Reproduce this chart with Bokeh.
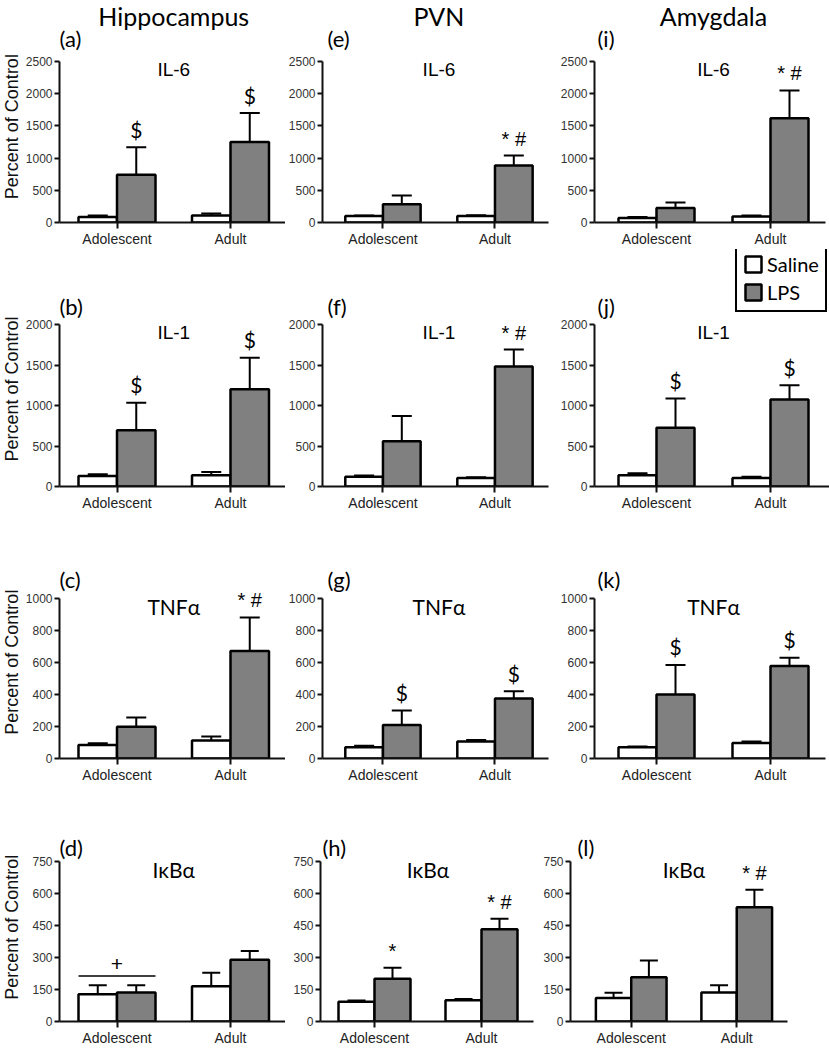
import numpy as np
from bokeh.plotting import figure
from bokeh.layouts import column, row
from bokeh.models import (Range1d, FixedTicker, ColumnDataSource, Whisker, TeeHead,
                          Legend, LegendItem)
from bokeh.core.properties import value
from bokeh.embed import file_html
from bokeh.resources import INLINE

# ---------------- data ----------------
regions = ["Hippocampus", "PVN", "Amygdala"]
markers = ["IL-6", "IL-1", "TNFα", "IκBα"]
ages = ["Adolescent", "Adult"]
letters = [["(a)", "(e)", "(i)"], ["(b)", "(f)", "(j)"],
           ["(c)", "(g)", "(k)"], ["(d)", "(h)", "(l)"]]
y_max = [2500, 2000, 1000, 750]
y_step = [500, 500, 200, 150]
y_title = "Percent of Control"

# rows = markers, values = [Adolescent, Adult]
hippocampus_saline = [[85, 110], [130, 140], [85, 112], [128, 165]]
hippocampus_saline_sem = [[25, 30], [20, 40], [10, 25], [42, 63]]
hippocampus_lps = [[740, 1250], [695, 1200], [198, 672], [136, 290]]
hippocampus_lps_sem = [[430, 450], [340, 390], [58, 210], [34, 40]]
hippocampus_marks = [["$", "$"], ["$", "$"], ["", "* #"], ["", ""]]

pvn_saline = [[100, 100], [120, 105], [70, 106], [93, 100]]
pvn_saline_sem = [[10, 12], [15, 10], [10, 10], [5, 5]]
pvn_lps = [[285, 885], [560, 1480], [210, 375], [200, 433]]
pvn_lps_sem = [[135, 155], [310, 210], [90, 45], [52, 49]]
pvn_marks = [["", "* #"], ["", "* #"], ["$", "$"], ["*", "* #"]]

amygdala_saline = [[70, 95], [140, 105], [70, 97], [110, 136]]
amygdala_saline_sem = [[15, 15], [25, 15], [5, 10], [25, 34]]
amygdala_lps = [[225, 1620], [725, 1075], [400, 578], [208, 536]]
amygdala_lps_sem = [[85, 430], [360, 175], [185, 52], [78, 82]]
amygdala_marks = [["", "* #"], ["$", "$"], ["$", "$"], ["", "* #"]]

# Hippocampus IκBα: adolescent group comparison bar
plus_bar_value = 213
plus_label = "+"

DATA = {
    "Hippocampus": (hippocampus_saline, hippocampus_saline_sem, hippocampus_lps, hippocampus_lps_sem, hippocampus_marks),
    "PVN": (pvn_saline, pvn_saline_sem, pvn_lps, pvn_lps_sem, pvn_marks),
    "Amygdala": (amygdala_saline, amygdala_saline_sem, amygdala_lps, amygdala_lps_sem, amygdala_marks),
}

# ---------------- layout (pixels) ----------------
ROW_H = [249, 265, 271, 263]
ROW_B = [27, 28, 27, 24]
ROW_TOP = [61, 75, 84, 77]
LETTER_DY = [23, 18, 19, 14]
STRIP_W = 22
COLS_STD = [dict(w=263, l=37, r=0, p1=57.5, p2=171, bw=38.5, ldx=0),
            dict(w=271, l=35, r=8, p1=61, p2=174, bw=38, ldx=5),
            dict(w=273, l=38, r=4, p1=62, p2=176, bw=38, ldx=3)]
COLS_BOT = [dict(w=263, l=37, r=0, p1=57.5, p2=171, bw=38.5, ldx=0),
            dict(w=255, l=35, r=7, p1=54, p2=161, bw=36, ldx=2),
            dict(w=289, l=29, r=42, p1=61, p2=167, bw=35.5, ldx=7)]

ARIAL = "Liberation Sans"
CAL = "Lato"
GRAY = "#808080"


def label_strip(ri):
    H, B, top = ROW_H[ri], ROW_B[ri], ROW_TOP[ri]
    plot_h = H - B - top
    p = figure(width=STRIP_W, height=H, x_range=Range1d(0, STRIP_W), y_range=Range1d(0, H),
               output_backend="svg", toolbar_location=None, title=None,
               x_axis_location=None, y_axis_location=None,
               min_border_left=0, min_border_right=0, min_border_top=0, min_border_bottom=0)
    p.outline_line_color = None
    p.xgrid.visible = False
    p.ygrid.visible = False
    p.text(x=[STRIP_W / 2], y=[B + plot_h / 2], text=[y_title], angle=np.pi / 2,
           text_align="center", text_baseline="middle", text_font=value(ARIAL),
           text_font_size="18px", text_color="#111111")
    return p


def panel(ri, ci, geom):
    reg = regions[ci]
    sal, sal_sem, lps, lps_sem, marks = DATA[reg]
    H, B, top = ROW_H[ri], ROW_B[ri], ROW_TOP[ri]
    frame_h = H - B
    plot_h = frame_h - top
    ymax = y_max[ri]
    y_end = ymax * frame_h / plot_h
    right = 0 if (ri == 1 and ci == 2) else geom["r"]
    frame_w = geom["w"] - geom["l"] - right
    unit = geom["p2"] - geom["p1"]
    x0 = 1 - geom["p1"] / unit
    x1 = x0 + frame_w / unit
    bw = geom["bw"] / unit

    p = figure(width=geom["w"], height=H, x_range=Range1d(x0, x1), y_range=Range1d(0, y_end),
               output_backend="svg", toolbar_location=None, title=None,
               min_border_left=geom["l"], min_border_right=right,
               min_border_top=0, min_border_bottom=B)
    p.outline_line_color = None
    p.xgrid.visible = False
    p.ygrid.visible = False
    p.background_fill_color = "white"
    p.border_fill_color = "white"

    groups = [1, 2]
    src = ColumnDataSource(dict(
        xs=[g - bw / 2 for g in groups],
        xl=[g + bw / 2 for g in groups],
        sal=sal[ri], sal_top=[m + s for m, s in zip(sal[ri], sal_sem[ri])],
        lps=lps[ri], lps_top=[m + s for m, s in zip(lps[ri], lps_sem[ri])],
    ))

    head = 18 if ri == 3 else 20
    for xcol, lo, hi in (("xs", "sal", "sal_top"), ("xl", "lps", "lps_top")):
        w = Whisker(source=src, base=xcol, lower=lo, upper=hi, line_width=2, line_color="black",
                    lower_head=None, upper_head=TeeHead(size=head, line_width=2, line_color="black"))
        p.add_layout(w)

    r_sal = p.vbar(x="xs", top="sal", bottom=0, width=bw, source=src,
                   fill_color="white", line_color="black", line_width=2.5)
    r_lps = p.vbar(x="xl", top="lps", bottom=0, width=bw, source=src,
                   fill_color=GRAY, line_color="black", line_width=2.5)

    # significance marks
    dollar = [(g + bw / 2, t, m) for g, t, m in zip(groups, src.data["lps_top"], marks[ri]) if m == "$"]
    star = [(g + bw / 2, t, m) for g, t, m in zip(groups, src.data["lps_top"], marks[ri]) if m and m != "$"]
    if dollar:
        p.text(x=[d[0] for d in dollar], y=[d[1] for d in dollar], text=[d[2] for d in dollar],
               y_offset=-18, text_align="center", text_baseline="middle",
               text_font=value(CAL), text_font_size="21px", text_color="black")
    if star:
        p.text(x=[d[0] for d in star], y=[d[1] for d in star], text=[d[2] for d in star],
               y_offset=-17, text_align="center", text_baseline="middle",
               text_font=value(ARIAL), text_font_size="20px", text_color="black")

    if reg == "Hippocampus" and ri == 3:
        p.segment(x0=[1 - bw], y0=[plus_bar_value], x1=[1 + bw], y1=[plus_bar_value],
                  line_color="black", line_width=1.5)
        p.text(x=[1], y=[plus_bar_value], text=[plus_label], y_offset=-12, text_align="center",
               text_baseline="middle", text_font=value(ARIAL), text_font_size="21px",
               text_color="black")

    # marker title
    tfont = ARIAL if markers[ri].startswith("IL") else CAL
    tsize = "19px" if markers[ri].startswith("IL") else "21px"
    p.text(x=[1.5], y=[ymax], text=[markers[ri]], y_offset=8, text_align="center",
           text_baseline="middle", text_font=value(tfont), text_font_size=tsize, text_color="black")

    # panel letter
    p.text(x=[x0], y=[ymax], text=[letters[ri][ci]], x_offset=geom["ldx"], y_offset=-LETTER_DY[ri],
           text_align="left", text_baseline="middle", text_font=value(CAL),
           text_font_size="22px", text_color="black")

    # region header
    if ri == 0:
        p.text(x=[1.5], y=[ymax], text=[reg], y_offset=-46, text_align="center",
               text_baseline="middle", text_font=value(CAL), text_font_size="25px",
               text_color="black")

    # axes
    ya = p.yaxis[0]
    ya.ticker = FixedTicker(ticks=list(range(0, ymax + 1, y_step[ri])))
    ya.bounds = (0, ymax)
    ya.axis_line_width = 2
    ya.axis_line_color = "#111111"
    ya.major_tick_line_width = 2
    ya.major_tick_line_color = "#111111"
    ya.major_tick_out = 5
    ya.major_tick_in = 0
    ya.minor_tick_line_color = None
    ya.major_label_standoff = 2
    ya.major_label_text_font = ARIAL
    ya.major_label_text_font_size = "12px"
    ya.major_label_text_color = "#333333"

    xa = p.xaxis[0]
    xa.ticker = FixedTicker(ticks=groups)
    xa.major_label_overrides = {1: ages[0], 2: ages[1]}
    xa.axis_line_width = 2
    xa.axis_line_color = "#111111"
    xa.major_tick_line_width = 2
    xa.major_tick_line_color = "#111111"
    xa.major_tick_out = 6
    xa.major_tick_in = 0
    xa.minor_tick_line_color = None
    xa.major_label_standoff = 2
    xa.major_label_text_font = ARIAL
    xa.major_label_text_font_size = "14px"
    xa.major_label_text_color = "#222222"

    if ri == 1 and ci == 2:
        leg = Legend(items=[LegendItem(label="Saline", renderers=[r_sal]),
                            LegendItem(label="LPS", renderers=[r_lps])],
                     location=(141, frame_h - 63), orientation="vertical",
                     border_line_color="black", border_line_width=2, border_line_alpha=1,
                     background_fill_color="white", background_fill_alpha=1,
                     glyph_width=20, glyph_height=20, label_height=20, spacing=4,
                     padding=6, margin=0, label_standoff=4,
                     label_text_font=CAL, label_text_font_size="20px", label_text_color="black")
        p.add_layout(leg, "center")
    return p


rows_ = []
for ri in range(4):
    cols = COLS_BOT if ri == 3 else COLS_STD
    rows_.append(row(label_strip(ri), *[panel(ri, ci, cols[ci]) for ci in range(3)], spacing=0))
page = column(*rows_, spacing=0)

open("out.html", "w").write(file_html(page, INLINE))
